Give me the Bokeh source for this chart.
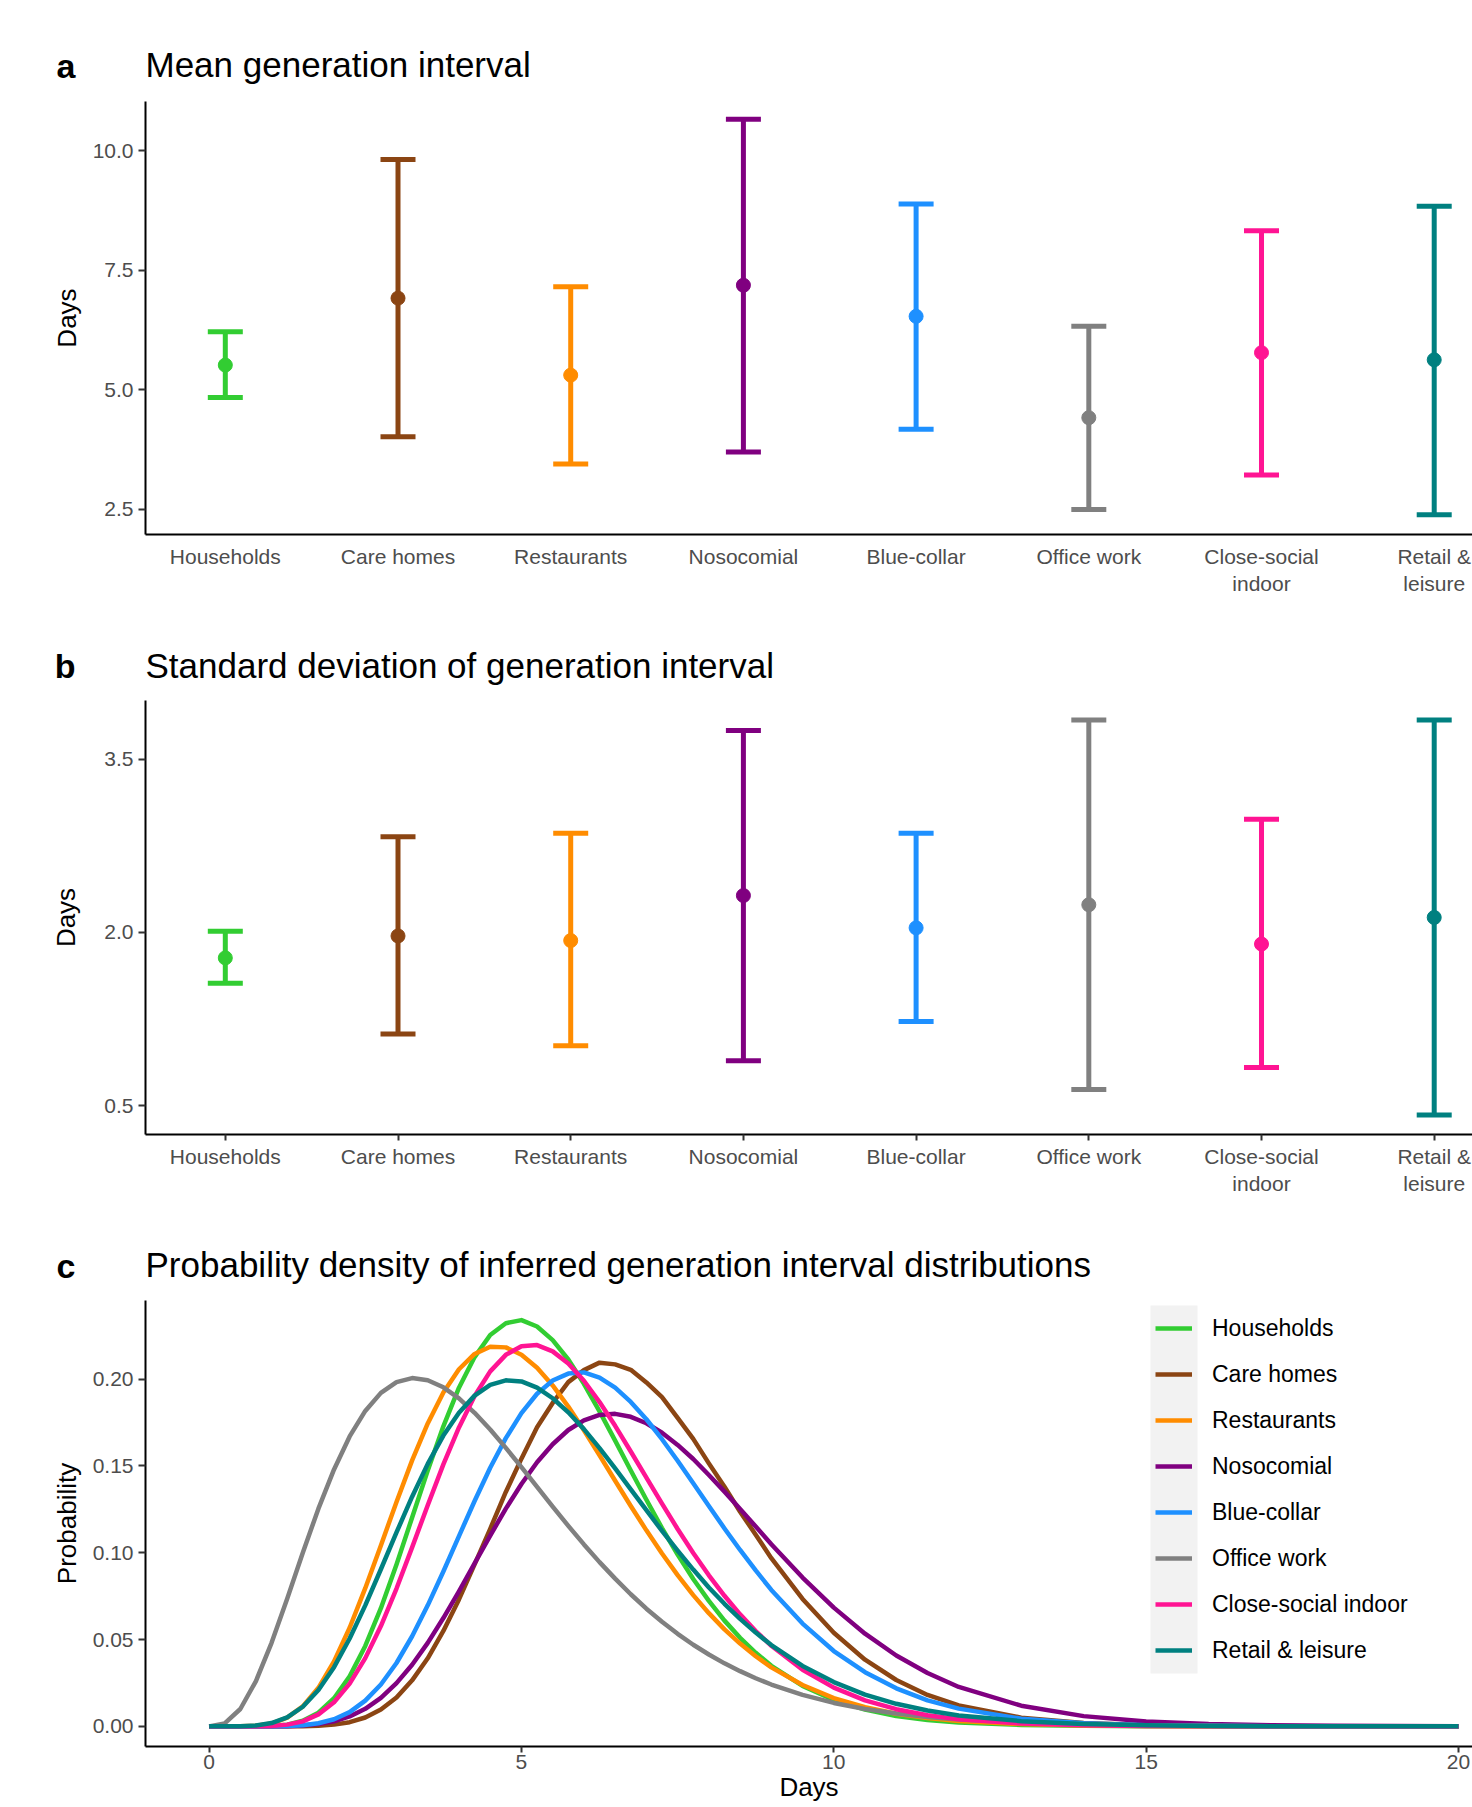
from bokeh.plotting import figure
from bokeh.layouts import column
from bokeh.models import (Range1d, FixedTicker, NumeralTickFormatter,
                          Legend, LegendItem, BoxAnnotation, ColumnDataSource)
from bokeh.core.properties import value
from bokeh.embed import file_html
from bokeh.resources import INLINE

# ---------------- data ----------------
categories = ["Households", "Care homes", "Restaurants", "Nosocomial",
              "Blue-collar", "Office work", "Close-social indoor", "Retail & leisure"]
tick_labels = ["Households", "Care homes", "Restaurants", "Nosocomial",
               "Blue-collar", "Office work", "Close-social\nindoor", "Retail &\nleisure"]
colors = ["#32CD32", "#8B4513", "#FF8C00", "#800080",
          "#1E90FF", "#808080", "#FF1493", "#008080"]

mean_est = [5.52, 6.92, 5.31, 7.19, 6.54, 4.42, 5.78, 5.63]
mean_lo = [4.84, 4.02, 3.45, 3.70, 4.18, 2.50, 3.22, 2.39]
mean_hi = [6.22, 9.82, 7.16, 10.66, 8.89, 6.33, 8.33, 8.84]

sd_est = [1.78, 1.97, 1.93, 2.32, 2.04, 2.24, 1.90, 2.13]
sd_lo = [1.56, 1.12, 1.02, 0.89, 1.23, 0.64, 0.83, 0.42]
sd_hi = [2.01, 2.83, 2.86, 3.75, 2.86, 3.84, 2.98, 3.84]

mean_ticks = [2.5, 5.0, 7.5, 10.0]
sd_ticks = [0.5, 2.0, 3.5]
prob_ticks = [0.0, 0.05, 0.10, 0.15, 0.20]
day_ticks = [0, 5, 10, 15, 20]

days = [0, 0.25, 0.5, 0.75, 1, 1.25, 1.5, 1.75, 2, 2.25, 2.5, 2.75, 3, 3.25, 3.5, 3.75,
        4, 4.25, 4.5, 4.75, 5, 5.25, 5.5, 5.75, 6, 6.25, 6.5, 6.75, 7, 7.25, 7.5, 7.75,
        8, 8.25, 8.5, 8.75, 9,
        9.5, 10, 10.5, 11, 11.5, 12,
        13, 14, 15, 16, 17, 18, 20]

dens_households = [0, 0, 0.0000, 0.0000, 0.0002, 0.0010, 0.0032, 0.0079,
                   0.0162, 0.0288, 0.0463, 0.0681, 0.0933, 0.1203, 0.1474, 0.1728,
                   0.1951, 0.2127, 0.2254, 0.2322, 0.2340, 0.2303, 0.2225, 0.2113,
                   0.1973, 0.1814, 0.1646, 0.1474, 0.1305, 0.1142, 0.0990, 0.0849,
                   0.0723, 0.0609, 0.0510, 0.0424, 0.0349,
                   0.0233, 0.0152, 0.0097, 0.0060, 0.0037, 0.0022,
                   0.0008, 0.0003, 0.0001, 0.0000, 0, 0, 0]
dens_care = [0, 0, 0, 0, 0, 0.0000, 0.0001, 0.0003,
             0.0010, 0.0024, 0.0051, 0.0097, 0.0166, 0.0265, 0.0392, 0.0550,
             0.0731, 0.0933, 0.1138, 0.1350, 0.1542, 0.1723, 0.1863, 0.1983,
             0.2052, 0.2095, 0.2085, 0.2054, 0.1981, 0.1896, 0.1777, 0.1656,
             0.1515, 0.1380, 0.1236, 0.1104, 0.0969,
             0.0734, 0.0539, 0.0384, 0.0267, 0.0181, 0.0121,
             0.0050, 0.0020, 0.0007, 0.0003, 0.0001, 0.0000, 0]
dens_restaurants = [0, 0, 0.0000, 0.0004, 0.0016, 0.0050, 0.0115, 0.0222,
                    0.0374, 0.0568, 0.0796, 0.1042, 0.1293, 0.1532, 0.1745, 0.1923,
                    0.2057, 0.2145, 0.2187, 0.2183, 0.2141, 0.2066, 0.1964, 0.1842,
                    0.1706, 0.1562, 0.1415, 0.1269, 0.1129, 0.0996, 0.0871, 0.0756,
                    0.0652, 0.0559, 0.0477, 0.0404, 0.0340,
                    0.0238, 0.0163, 0.0110, 0.0073, 0.0048, 0.0031,
                    0.0013, 0.0005, 0.0002, 0.0001, 0, 0, 0]
dens_nosocomial = [0, 0, 0, 0, 0.0000, 0.0001, 0.0005, 0.0013,
                   0.0029, 0.0057, 0.0101, 0.0164, 0.0249, 0.0355, 0.0481, 0.0624,
                   0.0778, 0.0939, 0.1099, 0.1254, 0.1396, 0.1521, 0.1625, 0.1707,
                   0.1763, 0.1794, 0.1800, 0.1783, 0.1746, 0.1691, 0.1621, 0.1540,
                   0.1448, 0.1352, 0.1252, 0.1151, 0.1049,
                   0.0857, 0.0684, 0.0534, 0.0408, 0.0307, 0.0227,
                   0.0119, 0.0059, 0.0028, 0.0013, 0.0006, 0.0003, 0.0000]
dens_bluecollar = [0, 0, 0, 0, 0.0000, 0.0002, 0.0006, 0.0018,
                   0.0041, 0.0082, 0.0148, 0.0241, 0.0365, 0.0519, 0.0697, 0.0892,
                   0.1096, 0.1298, 0.1490, 0.1660, 0.1804, 0.1916, 0.1992, 0.2032,
                   0.2039, 0.2009, 0.1951, 0.1869, 0.1769, 0.1654, 0.1530, 0.1400,
                   0.1269, 0.1140, 0.1016, 0.0898, 0.0786,
                   0.0592, 0.0434, 0.0312, 0.0219, 0.0150, 0.0102,
                   0.0044, 0.0018, 0.0007, 0.0003, 0.0001, 0.0000, 0]
dens_office = [0, 0.0017, 0.0100, 0.0261, 0.0481, 0.0735, 0.1000, 0.1254,
               0.1480, 0.1670, 0.1817, 0.1921, 0.1983, 0.2006, 0.1994, 0.1953,
               0.1889, 0.1806, 0.1710, 0.1604, 0.1493, 0.1379, 0.1266, 0.1155,
               0.1048, 0.0946, 0.0851, 0.0761, 0.0678, 0.0603, 0.0533, 0.0470,
               0.0414, 0.0363, 0.0318, 0.0277, 0.0241,
               0.0181, 0.0135, 0.0100, 0.0074, 0.0054, 0.0039,
               0.0021, 0.0011, 0.0005, 0.0003, 0.0001, 0.0001, 0.0000]
dens_closesocial = [0, 0, 0, 0, 0.0002, 0.0010, 0.0029, 0.0069,
                    0.0139, 0.0246, 0.0393, 0.0578, 0.0794, 0.1031, 0.1274, 0.1509,
                    0.1722, 0.1903, 0.2045, 0.2140, 0.2190, 0.2196, 0.2160, 0.2090,
                    0.1991, 0.1868, 0.1731, 0.1583, 0.1433, 0.1283, 0.1137, 0.0999,
                    0.0870, 0.0752, 0.0645, 0.0549, 0.0464,
                    0.0326, 0.0223, 0.0150, 0.0099, 0.0064, 0.0041,
                    0.0016, 0.0006, 0.0002, 0.0001, 0, 0, 0]
dens_retail = [0, 0, 0.0001, 0.0005, 0.0019, 0.0052, 0.0113, 0.0209,
               0.0341, 0.0506, 0.0697, 0.0905, 0.1117, 0.1323, 0.1512, 0.1675,
               0.1807, 0.1905, 0.1967, 0.1993, 0.1987, 0.1951, 0.1890, 0.1809,
               0.1712, 0.1603, 0.1486, 0.1365, 0.1245, 0.1126, 0.1012, 0.0903,
               0.0800, 0.0706, 0.0619, 0.0540, 0.0468,
               0.0348, 0.0255, 0.0183, 0.0130, 0.0091, 0.0063,
               0.0030, 0.0013, 0.0006, 0.0002, 0.0001, 0.0000, 0]
densities = [dens_households, dens_care, dens_restaurants, dens_nosocomial,
             dens_bluecollar, dens_office, dens_closesocial, dens_retail]

# ---------------- style ----------------
FONT = "Liberation Sans"
W = 1472
LEFT = 145
TICK_COLOR = "#4D4D4D"


def style(p, x_tick_out, x_standoff, y_label_standoff):
    p.xgrid.visible = False
    p.ygrid.visible = False
    p.outline_line_color = None
    p.background_fill_color = "white"
    p.border_fill_color = "white"
    for ax in (p.xaxis[0], p.yaxis[0]):
        ax.axis_line_color = "black"
        ax.axis_line_width = 2
        ax.major_tick_line_color = "#333333"
        ax.major_tick_line_width = 2
        ax.major_tick_in = 0
        ax.major_tick_out = 7
        ax.minor_tick_line_color = None
        ax.major_label_text_font = FONT
        ax.major_label_text_font_size = "21px"
        ax.major_label_text_color = TICK_COLOR
        ax.axis_label_text_font = FONT
        ax.axis_label_text_font_size = "26px"
        ax.axis_label_text_font_style = "normal"
        ax.axis_label_text_color = "black"
    p.yaxis[0].major_label_standoff = 5
    p.yaxis[0].axis_label_standoff = y_label_standoff
    p.xaxis[0].major_tick_out = x_tick_out
    if x_tick_out == 0:
        p.xaxis[0].major_tick_line_color = None
    p.xaxis[0].major_label_standoff = x_standoff


def header(height, top, letter, title, base_y):
    # header strip: panel letter as a horizontal left-axis label, title as text
    h = figure(width=W, height=height, output_backend="svg", toolbar_location=None,
               x_range=Range1d(0, W - LEFT), y_range=Range1d(0, height - top),
               x_axis_type=None, title=None,
               min_border_left=LEFT, min_border_right=0,
               min_border_top=top, min_border_bottom=0)
    h.outline_line_color = None
    h.background_fill_color = "white"
    h.border_fill_color = "white"
    h.grid.visible = False
    ax = h.yaxis[0]
    ax.ticker = FixedTicker(ticks=[])
    ax.axis_line_color = None
    ax.major_tick_line_color = None
    ax.minor_tick_line_color = None
    ax.major_tick_in = 0
    ax.major_tick_out = 0
    ax.minor_tick_in = 0
    ax.minor_tick_out = 0
    ax.major_label_standoff = 0
    ax.major_label_text_font_size = "0px"
    ax.axis_label = letter
    ax.axis_label_orientation = "horizontal"
    ax.axis_label_text_font = FONT
    ax.axis_label_text_font_size = "34px"
    ax.axis_label_text_font_style = "bold"
    ax.axis_label_text_color = "black"
    ax.axis_label_standoff = 70
    h.text(x=[0], y=[base_y], text=[title], text_font=value(FONT),
           text_font_size="35px", text_color="black",
           text_baseline="alphabetic", text_align="left")
    return h


xs = list(range(len(categories)))
overrides = {i: lab for i, lab in enumerate(tick_labels)}


def interval_panel(height, bottom, yr, est, lo, hi, ticks, fmt, x_tick_out,
                   x_standoff, y_label_standoff):
    p = figure(width=W, height=height, output_backend="svg", toolbar_location=None,
               title=None,
               x_range=Range1d(-0.4621, 7.2217), y_range=Range1d(*yr),
               min_border_left=LEFT, min_border_right=0, min_border_top=0,
               min_border_bottom=bottom)
    src = ColumnDataSource(dict(x=xs, est=est, lo=lo, hi=hi, color=colors))
    p.segment(x0="x", y0="lo", x1="x", y1="hi", line_color="color", line_width=5,
              source=src)
    p.scatter(x="x", y="hi", marker="dash", size=35, line_width=5, line_color="color",
              source=src)
    p.scatter(x="x", y="lo", marker="dash", size=35, line_width=5, line_color="color",
              source=src)
    p.scatter(x="x", y="est", marker="circle", size=14, fill_color="color",
              line_color="color", source=src)
    p.xaxis.ticker = FixedTicker(ticks=xs)
    p.xaxis.major_label_overrides = overrides
    p.yaxis.ticker = FixedTicker(ticks=ticks)
    p.yaxis.formatter = NumeralTickFormatter(format=fmt)
    p.yaxis.axis_label = "Days"
    style(p, x_tick_out, x_standoff, y_label_standoff)
    return p


# Panel a
h1 = header(101, 29, "a", "Mean generation interval", 37.0)
p1 = interval_panel(499, 66, (1.977, 11.033), mean_est, mean_lo, mean_hi,
                    mean_ticks, "0.0", 0, 10, 8)

# Panel b
h2 = header(100, 31, "b", "Standard deviation of generation interval", 35.4)
p2 = interval_panel(500, 66, (0.2506, 4.009), sd_est, sd_lo, sd_hi,
                    sd_ticks, "0.0", 6, 4, 20)

# Panel c
h3 = header(100, 30, "c", "Probability density of inferred generation interval distributions", 36.0)
p3 = figure(width=W, height=507, output_backend="svg", toolbar_location=None,
            title=None,
            x_range=Range1d(-1.018, 20.224), y_range=Range1d(-0.0116, 0.2453),
            min_border_left=LEFT, min_border_right=0, min_border_top=0,
            min_border_bottom=61)
p3.add_layout(BoxAnnotation(left=1005, right=1052, bottom=73, top=441,
                            left_units="screen", right_units="screen",
                            bottom_units="screen", top_units="screen",
                            fill_color="#F2F2F2", fill_alpha=1.0, line_color=None,
                            level="underlay"))
items = []
for cat, col, dens in zip(categories, colors, densities):
    r = p3.line(days, dens, line_color=col, line_width=4.5, line_join="round")
    items.append(LegendItem(label=cat, renderers=[r]))
legend = Legend(items=items, location=(1010, 73), orientation="vertical",
                glyph_width=37, glyph_height=46, label_height=46, spacing=0,
                padding=0, margin=0, label_standoff=20,
                label_text_font=FONT, label_text_font_size="23px",
                label_text_color="black", background_fill_alpha=0,
                border_line_color=None)
p3.add_layout(legend)
p3.xaxis.ticker = FixedTicker(ticks=day_ticks)
p3.xaxis.formatter = NumeralTickFormatter(format="0")
p3.yaxis.ticker = FixedTicker(ticks=prob_ticks)
p3.yaxis.formatter = NumeralTickFormatter(format="0.00")
p3.yaxis.axis_label = "Probability"
p3.xaxis.axis_label = "Days"
style(p3, 6, 2, 8)
p3.xaxis[0].axis_label_standoff = 0

layout = column(h1, p1, h2, p2, h3, p3, spacing=0)
open("out.html", "w").write(file_html(layout, INLINE, title="Generation interval"))
